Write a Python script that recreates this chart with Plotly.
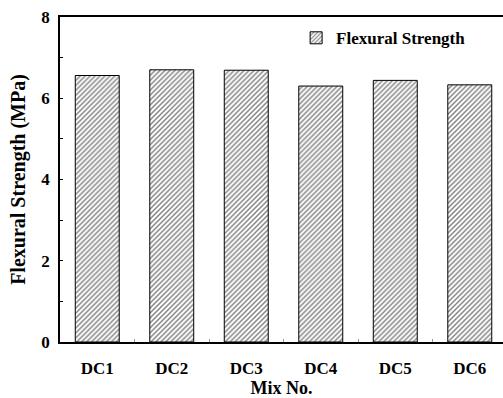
import plotly.graph_objects as go

mixes = ["DC1", "DC2", "DC3", "DC4", "DC5", "DC6"]
flexural_strength = [6.56, 6.70, 6.69, 6.30, 6.44, 6.33]

FONT = "Liberation Serif"

fig = go.Figure()
fig.add_trace(go.Bar(
    x=mixes,
    y=flexural_strength,
    name="Flexural Strength",
    width=0.59,
    marker=dict(
        color="white",
        line=dict(color="black", width=1),
        pattern=dict(shape="/", fgcolor="black", bgcolor="white",
                     size=3.5, solidity=0.4),
    ),
))

fig.update_layout(
    width=503, height=398,
    margin=dict(l=60, r=0, t=17, b=56),
    paper_bgcolor="white", plot_bgcolor="white",
    font=dict(family=FONT, size=17, color="black"),
    showlegend=True,
    legend=dict(
        x=0.533, y=0.99, xanchor="left", yanchor="top",
        bgcolor="rgba(0,0,0,0)",
        font=dict(family=FONT, size=17, color="black", weight="bold"),
    ),
    xaxis=dict(
        range=[-0.5, 5.446], automargin=False,
        showline=True, linecolor="black", linewidth=1.5, mirror=True,
        ticks="inside", ticklen=3, tickcolor="#999", tickson="boundaries",
        ticklabelstandoff=10,
        tickfont=dict(family=FONT, size=17, weight="bold"),
        title=dict(text="Mix No.", font=dict(family=FONT, size=18, weight="bold"), standoff=12),
        showgrid=False,
    ),
    yaxis=dict(
        range=[0, 8], dtick=2, automargin=False,
        showline=True, linecolor="black", linewidth=1.5,
        ticks="inside", ticklen=3, tickcolor="black",
        minor=dict(dtick=1, ticks="inside", ticklen=3, tickcolor="black"),
        ticklabelstandoff=5,
        tickfont=dict(family=FONT, size=17, weight="bold"),
        title=dict(text="Flexural Strength (MPa)", font=dict(family=FONT, size=20, weight="bold"), standoff=10),
        showgrid=False, zeroline=False,
    ),
)

fig.write_html("out.html")
